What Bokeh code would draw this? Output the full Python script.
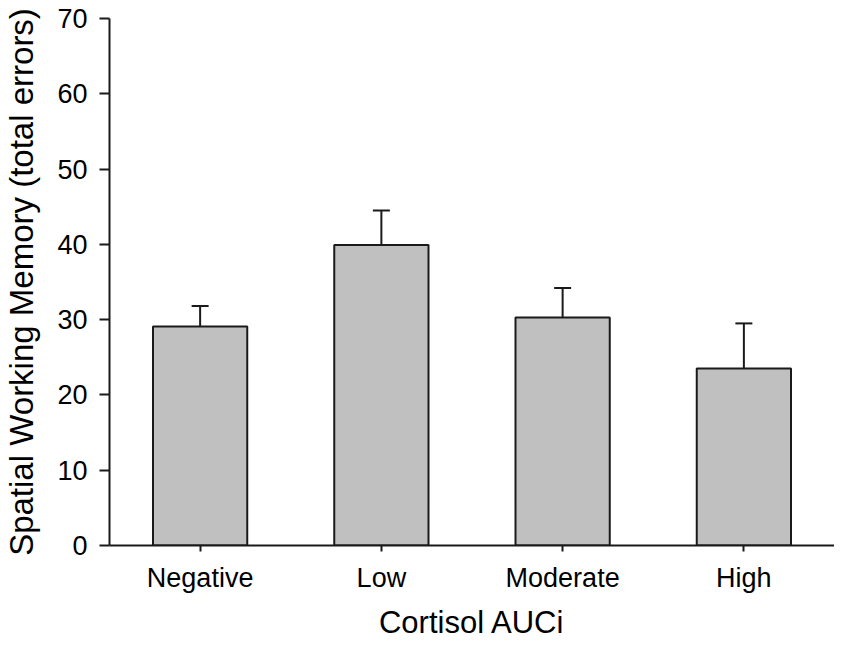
from bokeh.plotting import figure
from bokeh.models import ColumnDataSource, Range1d, FactorRange, Whisker, TeeHead, FixedTicker
from bokeh.embed import file_html
from bokeh.resources import INLINE

categories = ["Negative", "Low", "Moderate", "High"]
means = [29.1, 39.9, 30.3, 23.5]
upper = [31.8, 44.5, 34.2, 29.5]
y_ticks = [0, 10, 20, 30, 40, 50, 60, 70]

src = ColumnDataSource(dict(cat=categories, mean=means, upper=upper))

p = figure(width=834, height=642, x_range=FactorRange(*categories), y_range=Range1d(0, 70),
           output_backend="svg", toolbar_location=None,
           min_border_left=106, min_border_right=0, min_border_top=18, min_border_bottom=90)

p.vbar(x="cat", top="mean", width=0.52, source=src, fill_color="#c0c0c0",
       line_color="#1a1a1a", line_width=2)

w = Whisker(base="cat", upper="upper", lower="mean", source=src, dimension="height",
            line_color="#1a1a1a", line_width=2, lower_head=None,
            upper_head=TeeHead(size=17, line_color="#1a1a1a", line_width=2))
p.add_layout(w)

p.xgrid.visible = False
p.ygrid.visible = False
p.outline_line_color = None
p.background_fill_color = "white"
p.border_fill_color = "white"

font = "Liberation Sans"
p.yaxis.ticker = FixedTicker(ticks=y_ticks)
p.yaxis.minor_tick_line_color = None
p.yaxis.major_tick_in = 0
p.yaxis.major_tick_out = 10
p.yaxis.major_label_standoff = 12
p.yaxis.axis_label = "Spatial Working Memory (total errors)"
p.yaxis.axis_label_standoff = 14
for ax in (p.xaxis, p.yaxis):
    ax.axis_line_width = 2
    ax.axis_line_color = "#1a1a1a"
    ax.major_tick_line_width = 2
    ax.major_tick_line_color = "#1a1a1a"
    ax.major_label_text_font = font
    ax.major_label_text_font_size = "27px"
    ax.major_label_text_color = "black"
    ax.axis_label_text_font = font
    ax.axis_label_text_font_style = "normal"
    ax.axis_label_text_color = "black"
p.yaxis.axis_label_text_font_size = "33px"
p.xaxis.axis_label_text_font_size = "31px"

p.xaxis.axis_label = "Cortisol AUCi"
p.xaxis.major_tick_in = 0
p.xaxis.major_tick_out = 6
p.xaxis.major_label_standoff = 11
p.xaxis.axis_label_standoff = 9

open("out.html", "w").write(file_html(p, INLINE))
